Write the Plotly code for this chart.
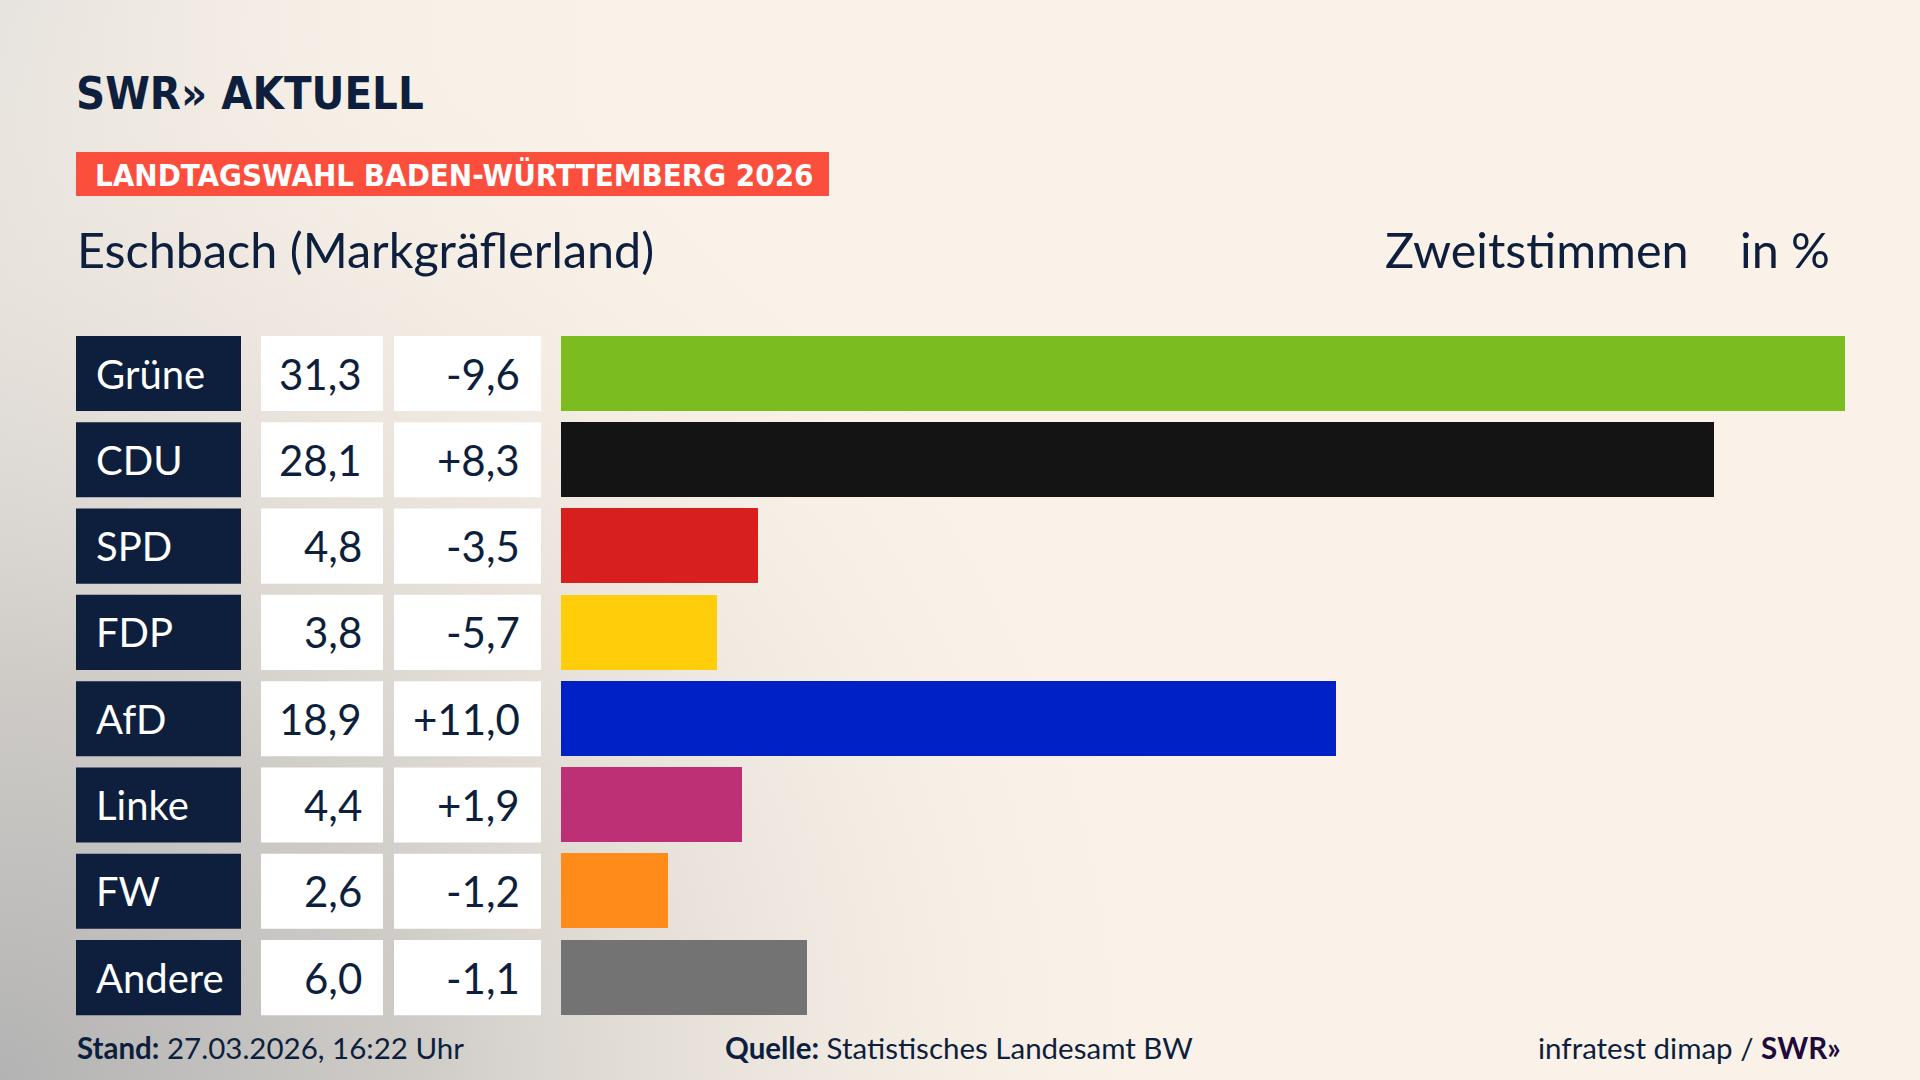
import plotly.graph_objects as go
from urllib.parse import quote

# ---- data ----
parties = ["Grüne", "CDU", "SPD", "FDP", "AfD", "Linke", "FW", "Andere"]
shares = [31.3, 28.1, 4.8, 3.8, 18.9, 4.4, 2.6, 6.0]
changes = [-9.6, 8.3, -3.5, -5.7, 11.0, 1.9, -1.2, -1.1]
colors = ["#7BBC1E", "#141414", "#D71F1D", "#FFCD0A", "#0021C6", "#BE3075", "#FF8C1A", "#737373"]

title_top = "LANDTAGSWAHL BADEN-WÜRTTEMBERG 2026"
place = "Eschbach (Markgräflerland)"
vote_type = "Zweitstimmen"
unit = "in %"
stand = "27.03.2026, 16:22 Uhr"
quelle = "Statistisches Landesamt BW"

W, H = 1920, 1080
NAVY = "#0D1F3C"
BODY = "Lato, 'Noto Sans', sans-serif"
COND = "'Liberation Sans Narrow', 'DejaVu Sans Condensed', 'Roboto', sans-serif"


def fmt(v, sign=False):
    s = f"{abs(v):.1f}".replace(".", ",")
    if sign:
        s = ("+" if v > 0 else "-") + s
    return s


def px(x):
    return x / W


def py(y):
    return 1 - y / H


# ---- background (svg gradient) ----
svg = f"""<svg xmlns='http://www.w3.org/2000/svg' width='{W}' height='{H}' viewBox='0 0 {W} {H}' preserveAspectRatio='none'>
<defs>
<radialGradient id='g' gradientUnits='userSpaceOnUse' cx='0' cy='{H}' r='1200' gradientTransform='translate(0 {H}) scale(1 0.95) translate(0 -{H})'>
<stop offset='0' stop-color='#b3b3b3' stop-opacity='1'/>
<stop offset='0.35' stop-color='#cdcac6' stop-opacity='0.95'/>
<stop offset='0.7' stop-color='#e9e3dc' stop-opacity='0.6'/>
<stop offset='1' stop-color='#faf2e8' stop-opacity='0'/>
</radialGradient>
<linearGradient id='l' x1='0' y1='0' x2='1' y2='0'>
<stop offset='0' stop-color='#e2dfdb' stop-opacity='0.9'/>
<stop offset='0.2' stop-color='#f3ede6' stop-opacity='0.4'/>
<stop offset='0.4' stop-color='#faf2e8' stop-opacity='0'/>
</linearGradient>
</defs>
<rect width='{W}' height='{H}' fill='#faf2e8'/>
<rect width='{W}' height='{H}' fill='url(#l)'/>
<rect width='{W}' height='{H}' fill='url(#g)'/>
</svg>"""
bg_src = "data:image/svg+xml;charset=utf-8," + quote(svg)

# ---- geometry ----
BAR_X0 = 561
PX_PER_PCT = (1845 - 561) / 31.3
x_max = (W - BAR_X0) / PX_PER_PCT
ROW_TOP_C = 373.5
PITCH = 86.3
n = len(parties)
dom_top = ROW_TOP_C - PITCH / 2
dom_bot = ROW_TOP_C + (n - 1) * PITCH + PITCH / 2
HALF = 0.435

idx = list(range(n))

fig = go.Figure()
fig.add_trace(go.Bar(
    y=idx, x=shares, orientation="h", marker=dict(color=colors, line=dict(width=0)),
    width=2 * HALF, hoverinfo="skip", showlegend=False,
))

shapes = []
annotations = []
for i in idx:
    shapes.append(dict(type="rect", xref="paper", yref="y", x0=px(76), x1=px(241),
                       y0=i - HALF, y1=i + HALF, fillcolor=NAVY, line=dict(width=0), layer="above"))
    shapes.append(dict(type="rect", xref="paper", yref="y", x0=px(261), x1=px(383),
                       y0=i - HALF, y1=i + HALF, fillcolor="white", line=dict(width=0), layer="above"))
    shapes.append(dict(type="rect", xref="paper", yref="y", x0=px(394), x1=px(541),
                       y0=i - HALF, y1=i + HALF, fillcolor="white", line=dict(width=0), layer="above"))
    annotations.append(dict(xref="paper", yref="y", x=px(94), y=i, text=parties[i], showarrow=False,
                            xanchor="left", yanchor="middle", font=dict(family=BODY, size=40, color="white")))
    annotations.append(dict(xref="paper", yref="y", x=px(364), y=i, text=fmt(shares[i]), showarrow=False,
                            xanchor="right", yanchor="middle", font=dict(family=BODY, size=42, color=NAVY)))
    annotations.append(dict(xref="paper", yref="y", x=px(522), y=i, text=fmt(changes[i], True), showarrow=False,
                            xanchor="right", yanchor="middle", font=dict(family=BODY, size=42, color=NAVY)))

# banner
shapes.append(dict(type="rect", xref="paper", yref="paper", x0=px(76), x1=px(829), y0=py(196), y1=py(152),
                   fillcolor="#FC4E3D", line=dict(width=0)))

annotations += [
    dict(xref="paper", yref="paper", x=px(74), y=py(94), text="<b>SWR» AKTUELL</b>", showarrow=False,
         xanchor="left", yanchor="middle", font=dict(family=COND, size=45, color=NAVY)),
    dict(xref="paper", yref="paper", x=px(93), y=py(175), text=f"<b>{title_top}</b>", showarrow=False,
         xanchor="left", yanchor="middle", font=dict(family=COND, size=31, color="white")),
    dict(xref="paper", yref="paper", x=px(75), y=py(249), text=place, showarrow=False,
         xanchor="left", yanchor="middle", font=dict(family=BODY, size=48.5, color=NAVY)),
    dict(xref="paper", yref="paper", x=px(1383), y=py(249), text=vote_type, showarrow=False,
         xanchor="left", yanchor="middle", font=dict(family=BODY, size=48.5, color=NAVY)),
    dict(xref="paper", yref="paper", x=px(1738), y=py(249), text=unit, showarrow=False,
         xanchor="left", yanchor="middle", font=dict(family=BODY, size=48.5, color=NAVY)),
    dict(xref="paper", yref="paper", x=px(75), y=py(1047), text=f"<b>Stand:</b> {stand}", showarrow=False,
         xanchor="left", yanchor="middle", font=dict(family=BODY, size=29.5, color=NAVY)),
    dict(xref="paper", yref="paper", x=px(723), y=py(1047), text=f"<b>Quelle:</b> {quelle}", showarrow=False,
         xanchor="left", yanchor="middle", font=dict(family=BODY, size=29.5, color=NAVY)),
    dict(xref="paper", yref="paper", x=px(1843), y=py(1047),
         text="infratest dimap / <b><span style='color:#1E0B3C'>SWR»</span></b>", showarrow=False,
         xanchor="right", yanchor="middle", font=dict(family=BODY, size=29.5, color=NAVY)),
]

fig.update_layout(
    width=W, height=H, margin=dict(l=0, r=0, t=0, b=0),
    paper_bgcolor="#faf2e8", plot_bgcolor="rgba(0,0,0,0)",
    images=[dict(source=bg_src, xref="paper", yref="paper", x=0, y=1, sizex=1, sizey=1,
                 sizing="stretch", xanchor="left", yanchor="top", layer="below")],
    xaxis=dict(domain=[px(BAR_X0), 1], range=[0, x_max], visible=False, fixedrange=True),
    yaxis=dict(domain=[py(dom_bot), py(dom_top)], range=[n - 0.5, -0.5], visible=False, fixedrange=True),
    shapes=shapes, annotations=annotations, bargap=0,
)

fig.write_html(
    "out.html",
    config={"displayModeBar": False},
    post_script="document.body.style.margin='0';document.body.style.overflow='hidden';",
)
